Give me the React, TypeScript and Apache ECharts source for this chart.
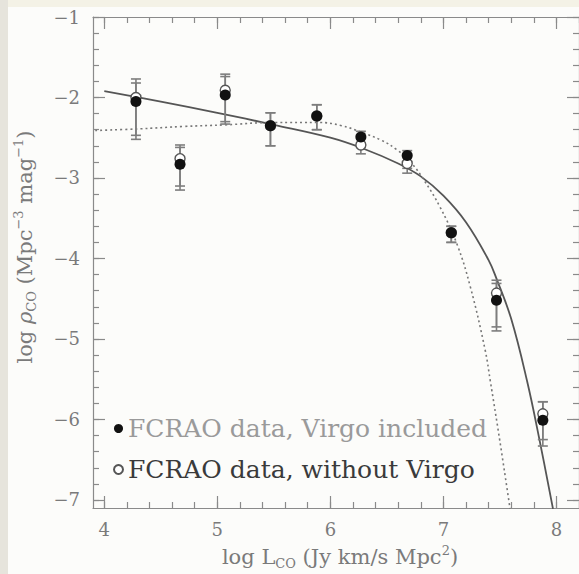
import React, { useEffect, useRef } from "react";
import * as echarts from "echarts";

// ---- data ----
const xValues = [4.28, 4.67, 5.07, 5.47, 5.88, 6.27, 6.68, 7.07, 7.47, 7.88];
const filledY = [-2.05, -2.83, -1.97, -2.35, -2.23, -2.49, -2.72, -3.68, -4.52, -6.01];
const filledLow = [-2.47, -3.10, -2.30, -2.60, -2.40, -2.60, -2.88, -3.80, -4.85, -6.33];
const filledHigh = [-1.77, -2.59, -1.71, -2.19, -2.09, -2.42, -2.66, -3.60, -4.27, -5.78];
const openY = [-2.0, -2.76, -1.91, -2.35, -2.23, -2.59, -2.82, -3.68, -4.43, -5.93];
const openLow = [-2.52, -3.15, -2.33, -2.60, -2.40, -2.70, -2.94, -3.80, -4.90, -6.25];
const openHigh = [-1.82, -2.62, -1.74, -2.19, -2.09, -2.48, -2.70, -3.60, -4.31, -5.78];

const solidX = [4.0, 4.5, 5.0, 5.5, 6.0, 6.3, 6.6, 6.8, 7.0, 7.2, 7.4, 7.47, 7.6, 7.74, 7.85, 7.97];
const solidY = [-1.92, -2.05, -2.19, -2.34, -2.5, -2.64, -2.82, -2.98, -3.22, -3.55, -4.02, -4.25, -4.75, -5.52, -6.25, -7.11];

const dottedX = [3.92, 4.3, 4.7, 5.07, 5.5, 5.9, 6.1, 6.27, 6.45, 6.59, 6.72, 6.83, 6.97, 7.12, 7.24, 7.37, 7.415, 7.5, 7.59];
const dottedY = [-2.41, -2.39, -2.36, -2.34, -2.31, -2.31, -2.35, -2.43, -2.53, -2.65, -2.82, -3.03, -3.36, -3.82, -4.36, -5.14, -5.52, -6.27, -7.11];

const xMajorTicks = [4, 5, 6, 7, 8];
const yMajorTicks = [-7, -6, -5, -4, -3, -2, -1];
const xRange = [3.9, 8.2];
const yRange = [-7.1, -1];
const minorStep = 0.2;

const seriesNames = ["FCRAO data, Virgo included", "FCRAO data, without Virgo"];
const xTitle = "{a|log L}{s|CO}{a| (Jy km/s Mpc}{p|2}{a|)}";
const yTitle = "{a|log }{i|ρ}{s|CO}{a| (Mpc}{p|−3}{a| mag}{p|−1}{a|)}";

function minorTicks(min: number, max: number, step: number) {
  const out: number[] = [];
  const start = Math.ceil(min / step - 1e-9);
  const end = Math.floor(max / step + 1e-9);
  for (let i = start; i <= end; i++) out.push(Math.round(i * step * 100) / 100);
  return out;
}

const serif = '"DejaVu Serif", "Liberation Serif", serif';
const axisColor = "#8a8a8a";
const labelColor = "#7a7a7a";

export default function App() {
  const ref = useRef<HTMLDivElement>(null);
  useEffect(() => {
    if (!ref.current) return;
    const chart = echarts.init(ref.current, undefined, { renderer: "svg" });
    const xMinor = minorTicks(xRange[0], xRange[1], minorStep);
    const yMinor = minorTicks(yRange[0], yRange[1], minorStep);
    const fmt = (v: number) => String(v).replace("-", "−");

    const mkX = (position: string, ticks: number[], len: number, labels: boolean, line: boolean) => ({
      type: "value",
      position,
      min: xRange[0],
      max: xRange[1],
      axisLine: { show: line, lineStyle: { color: axisColor, width: 1.2 } },
      axisTick: { show: true, inside: true, length: len, customValues: ticks, lineStyle: { color: axisColor, width: 1.2 } },
      axisLabel: labels
        ? { show: true, customValues: xMajorTicks, formatter: fmt, color: labelColor, fontFamily: serif, fontSize: 18, margin: 12 }
        : { show: false },
      splitLine: { show: false },
    });
    const mkY = (position: string, ticks: number[], len: number, labels: boolean, line: boolean) => ({
      type: "value",
      position,
      min: yRange[0],
      max: yRange[1],
      axisLine: { show: line, lineStyle: { color: axisColor, width: 1.2 } },
      axisTick: { show: true, inside: true, length: len, customValues: ticks, lineStyle: { color: axisColor, width: 1.2 } },
      axisLabel: labels
        ? { show: true, customValues: yMajorTicks, formatter: fmt, color: labelColor, fontFamily: serif, fontSize: 18, margin: 13 }
        : { show: false },
      splitLine: { show: false },
    });

    const errRender = (params: any, api: any) => {
      const x = api.value(0);
      const lo = api.coord([x, api.value(1)]);
      const hi = api.coord([x, api.value(2)]);
      const w = 5;
      const st = { stroke: "#7d7d7d", lineWidth: 1.6 };
      return {
        type: "group",
        children: [
          { type: "line", shape: { x1: lo[0], y1: lo[1], x2: hi[0], y2: hi[1] }, style: st },
          { type: "line", shape: { x1: lo[0] - w, y1: lo[1], x2: lo[0] + w, y2: lo[1] }, style: st },
          { type: "line", shape: { x1: hi[0] - w, y1: hi[1], x2: hi[0] + w, y2: hi[1] }, style: st },
        ],
      };
    };

    const rich = {
      a: { fontFamily: serif, fontSize: 21, lineHeight: 26, verticalAlign: "middle", fill: labelColor },
      i: { fontFamily: serif, fontSize: 21, fontStyle: "italic", lineHeight: 26, verticalAlign: "middle", fill: labelColor },
      s: { fontFamily: serif, fontSize: 13, lineHeight: 13, verticalAlign: "bottom", fill: labelColor },
      p: { fontFamily: serif, fontSize: 13, lineHeight: 13, verticalAlign: "top", fill: labelColor },
    };

    chart.setOption({
      animation: false,
      backgroundColor: "#fcfcfa",
      grid: { left: 93, top: 17, bottom: 66, right: -4, containLabel: false },
      xAxis: [
        mkX("bottom", xMajorTicks, 12, true, true),
        mkX("bottom", xMinor, 6, false, false),
        mkX("top", xMajorTicks, 12, false, true),
        mkX("top", xMinor, 6, false, false),
      ],
      yAxis: [
        mkY("left", yMajorTicks, 12, true, true),
        mkY("left", yMinor, 6, false, false),
        mkY("right", yMajorTicks, 12, false, true),
        mkY("right", yMinor, 6, false, false),
      ],
      legend: {
        left: 108,
        top: 411,
        orient: "vertical",
        itemGap: 16,
        itemWidth: 9,
        itemHeight: 9,
        data: [
          { name: seriesNames[0], textStyle: { color: "#9a9a9a" } },
          { name: seriesNames[1], textStyle: { color: "#3a3a3a" } },
        ],
        textStyle: { fontFamily: serif, fontSize: 25, padding: [0, 0, 0, 0] },
      },
      graphic: [
        { type: "rect", left: 0, top: 0, shape: { width: 8, height: 574 }, style: { fill: "#e6e4dc" }, silent: true },
        { type: "rect", left: 8, top: 0, shape: { width: 571, height: 7 }, style: { fill: "#f4f2e6" }, silent: true },
        {
          type: "text",
          x: 340,
          y: 557,
          style: { text: xTitle, align: "center", verticalAlign: "middle", fill: labelColor, rich },
        },
        {
          type: "text",
          x: 25,
          y: 247,
          rotation: Math.PI / 2,
          style: { text: yTitle, align: "center", verticalAlign: "middle", fill: labelColor, rich },
        },
      ],
      series: [
        {
          type: "line",
          name: "fit",
          data: solidX.map((x, i) => [x, solidY[i]]),
          smooth: 0.4,
          showSymbol: false,
          symbol: "none",
          lineStyle: { color: "#555", width: 1.8 },
          z: 2,
          silent: true,
        },
        {
          type: "line",
          name: "fit2",
          data: dottedX.map((x, i) => [x, dottedY[i]]),
          smooth: 0.4,
          showSymbol: false,
          symbol: "none",
          lineStyle: { color: "#777", width: 1.6, type: [2, 3] },
          z: 2,
          silent: true,
        },
        {
          type: "custom",
          name: "errOpen",
          renderItem: errRender,
          data: xValues.map((x, i) => [x, openLow[i], openHigh[i]]),
          encode: { x: 0, y: [1, 2] },
          z: 3,
          silent: true,
        },
        {
          type: "custom",
          name: "errFilled",
          renderItem: errRender,
          data: xValues.map((x, i) => [x, filledLow[i], filledHigh[i]]),
          encode: { x: 0, y: [1, 2] },
          z: 3,
          silent: true,
        },
        {
          type: "scatter",
          name: seriesNames[1],
          data: xValues.map((x, i) => [x, openY[i]]),
          symbol: "circle",
          symbolSize: 10,
          itemStyle: { color: "#ffffff", borderColor: "#555", borderWidth: 1.4, opacity: 1 },
          z: 4,
        },
        {
          type: "scatter",
          name: seriesNames[0],
          data: xValues.map((x, i) => [x, filledY[i]]),
          symbol: "circle",
          symbolSize: 11,
          itemStyle: { color: "#111111", opacity: 1 },
          z: 5,
        },
      ],
    });
    return () => chart.dispose();
  }, []);
  return <div ref={ref} style={{ position: "absolute", left: 0, top: 0, width: 579, height: 574 }} />;
}
